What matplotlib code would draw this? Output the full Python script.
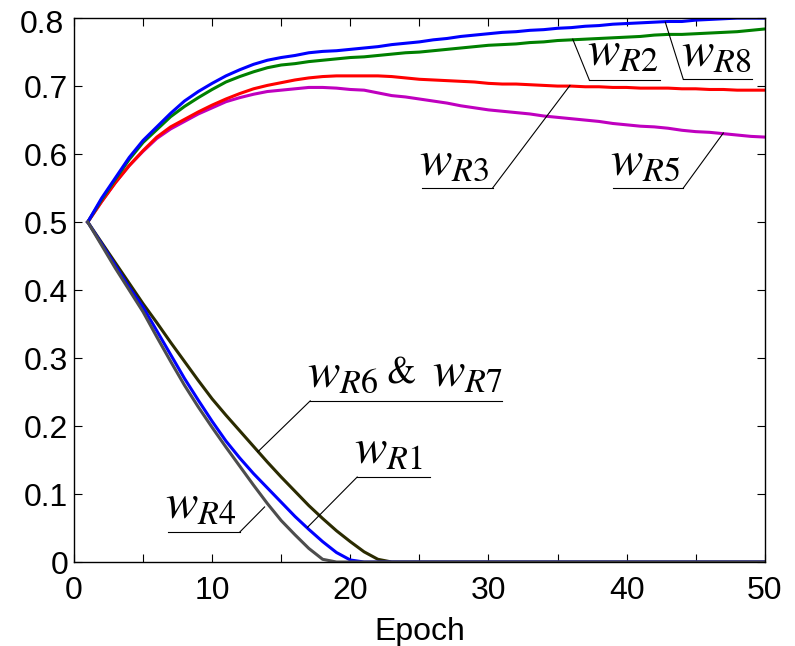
import numpy as np
import matplotlib
matplotlib.use("Agg")
import matplotlib.pyplot as plt
from matplotlib.transforms import ScaledTranslation

# epochs and weight trajectories
epoch = np.arange(1, 51)

w_r8 = [0.500, 0.535, 0.565, 0.595, 0.620, 0.640, 0.660, 0.678, 0.692, 0.704,
        0.715, 0.724, 0.732, 0.738, 0.742, 0.745, 0.749, 0.751, 0.752, 0.754,
        0.756, 0.758, 0.761, 0.763, 0.765, 0.768, 0.770, 0.773, 0.775, 0.777,
        0.779, 0.780, 0.782, 0.783, 0.785, 0.786, 0.788, 0.789, 0.791, 0.792,
        0.793, 0.794, 0.795, 0.795, 0.797, 0.798, 0.799, 0.800, 0.800, 0.800]

w_r2 = [0.500, 0.533, 0.563, 0.592, 0.617, 0.636, 0.655, 0.670, 0.683, 0.695,
        0.706, 0.714, 0.721, 0.727, 0.731, 0.733, 0.736, 0.738, 0.740, 0.742,
        0.743, 0.745, 0.747, 0.749, 0.750, 0.752, 0.754, 0.756, 0.758, 0.760,
        0.761, 0.762, 0.764, 0.765, 0.767, 0.768, 0.769, 0.770, 0.771, 0.772,
        0.773, 0.775, 0.776, 0.776, 0.777, 0.778, 0.779, 0.780, 0.782, 0.784]

w_r3 = [0.500, 0.530, 0.558, 0.583, 0.605, 0.625, 0.640, 0.651, 0.662, 0.672,
        0.681, 0.689, 0.696, 0.701, 0.705, 0.709, 0.712, 0.714, 0.715, 0.715,
        0.715, 0.715, 0.714, 0.712, 0.710, 0.709, 0.708, 0.707, 0.706, 0.704,
        0.703, 0.703, 0.702, 0.701, 0.700, 0.700, 0.699, 0.699, 0.698, 0.698,
        0.697, 0.697, 0.697, 0.696, 0.696, 0.695, 0.695, 0.694, 0.694, 0.694]

w_r5 = [0.500, 0.530, 0.558, 0.583, 0.604, 0.623, 0.637, 0.648, 0.659, 0.668,
        0.677, 0.683, 0.688, 0.692, 0.694, 0.696, 0.698, 0.698, 0.697, 0.695,
        0.694, 0.690, 0.686, 0.684, 0.681, 0.678, 0.675, 0.671, 0.668, 0.665,
        0.663, 0.661, 0.659, 0.656, 0.654, 0.652, 0.650, 0.648, 0.645, 0.643,
        0.641, 0.640, 0.638, 0.635, 0.633, 0.632, 0.630, 0.628, 0.626, 0.625]

w_r67 = [0.500, 0.470, 0.440, 0.410, 0.380, 0.352, 0.323, 0.295, 0.267, 0.240,
         0.216, 0.193, 0.170, 0.147, 0.125, 0.104, 0.083, 0.064, 0.046, 0.030,
         0.015, 0.004] + [0.0] * 28

w_r1 = [0.500, 0.468, 0.436, 0.404, 0.375, 0.340, 0.305, 0.270, 0.238, 0.207,
        0.178, 0.153, 0.130, 0.109, 0.088, 0.067, 0.048, 0.030, 0.014, 0.003] + [0.0] * 30

w_r4 = [0.500, 0.466, 0.432, 0.400, 0.368, 0.331, 0.295, 0.260, 0.228, 0.198,
        0.169, 0.141, 0.113, 0.086, 0.061, 0.040, 0.020, 0.004] + [0.0] * 32

plt.rcParams["font.family"] = ["Liberation Sans", "DejaVu Sans"]
plt.rcParams["mathtext.fontset"] = "stix"

fig = plt.figure(figsize=(7.95, 6.46), dpi=100)
ax = fig.add_axes([0.093, 0.130, 0.869, 0.842])

# rising weights
ax.plot(epoch, w_r5, color="#bf00bf", lw=2.2)
ax.plot(epoch, w_r3, color="#ff0000", lw=2.2)
ax.plot(epoch, w_r2, color="#008000", lw=2.2)
ax.plot(epoch, w_r8, color="#0000ff", lw=2.2)
# decaying weights
ax.plot(epoch, w_r67, color="#2b2b00", lw=2.2)
ax.plot(epoch, w_r1, color="#0000ff", lw=2.2)
ax.plot(epoch, w_r4, color="#4d4d4d", lw=2.2)

ax.set_xlim(0, 50)
ax.set_ylim(0, 0.8)
ax.set_xticks(np.arange(0, 51, 10))
ax.set_xticks(np.arange(0, 51, 5), minor=True)
ax.set_yticks(np.arange(0, 0.81, 0.1))
# top y label drawn by hand below (it sits a little lower in the original)
ax.set_yticklabels(["0", "0.1", "0.2", "0.3", "0.4", "0.5", "0.6", "0.7", ""])
ax.tick_params(which="both", direction="in", top=True, right=True, length=6,
               width=0.8, labelsize=23)
ax.tick_params(axis="x", pad=10)
ax.tick_params(axis="y", pad=4)
for s in ax.spines.values():
    s.set_linewidth(1.0)
ax.set_xlabel("Epoch", fontsize=23, labelpad=8)

off = ScaledTranslation(-0.095, -0.07, fig.dpi_scale_trans)
ax.text(0, 0.8, "0.8", fontsize=23, ha="right", va="center",
        transform=ax.get_yaxis_transform() + off)

# labels with underline and leader line:
# (text, underline x0, underline x1, underline y, curve x, curve y, leader from left end?)
labels = [
    (r"$w_{R2}$", 37.3, 42.4, 0.709, 36.1, 0.769, True),
    (r"$w_{R8}$", 44.1, 49.1, 0.710, 42.8, 0.794, True),
    (r"$w_{R3}$", 25.2, 30.3, 0.550, 35.9, 0.701, False),
    (r"$w_{R5}$", 39.0, 44.1, 0.550, 47.0, 0.631, False),
    (r"$w_{R6}$", 17.1, 31.0, 0.237, 13.3, 0.162, True),
    (r"$w_{R1}$", 20.5, 25.8, 0.125, 16.9, 0.051, True),
    (r"$w_{R4}$", 6.8, 12.0, 0.044, 13.8, 0.081, False),
]
for txt, x0, x1, yu, xc, yc, left in labels:
    ax.plot([x0, x1], [yu, yu], color="black", lw=0.8)
    xs = x0 if left else x1
    ax.plot([xs, xc], [yu, yc], color="black", lw=0.8)
    ax.text(x0 - 0.2, yu + 0.006, txt, fontsize=35, ha="left", va="bottom")

# rest of the combined label "w_R6 & w_R7"
ax.text(22.6, 0.237 + 0.014, "&", fontsize=27, ha="left", va="bottom",
        family="STIXGeneral")
ax.text(25.9, 0.237 + 0.006, r"$w_{R7}$", fontsize=35, ha="left", va="bottom")

fig.savefig("out.png", dpi=100)
